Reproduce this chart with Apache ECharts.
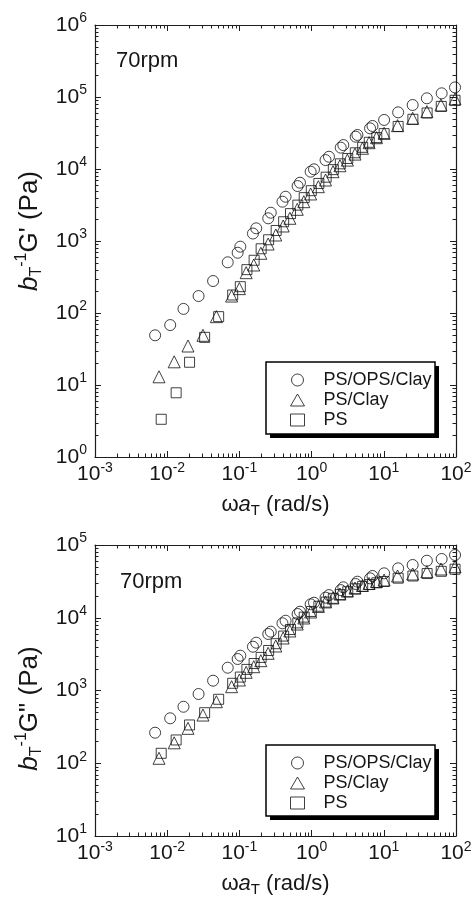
<!DOCTYPE html>
<html><head><meta charset="utf-8">
<script src="https://cdn.jsdelivr.net/npm/echarts@6/dist/echarts.min.js"></script>
<style>html,body{margin:0;padding:0;background:#fff}#c{width:472px;height:910px}</style>
</head><body><div id="c"></div>
<script>
const FONT = '"Liberation Sans", Arial, Helvetica, sans-serif';
const INK = '#161616';

// Tick decades (exponents of 10)
const xExps = [-3, -2, -1, 0, 1, 2];
const y1Exps = [0, 1, 2, 3, 4, 5, 6];
const y2Exps = [1, 2, 3, 4, 5];
const seriesNames = ['PS/OPS/Clay', 'PS/Clay', 'PS'];
const panelLabel = '70rpm';

// Reduced frequency ωaT (rad/s) for each sample
const wOPS  = [0.0068, 0.011, 0.0168, 0.0272, 0.0432, 0.0689, 0.0946, 0.103, 0.154, 0.171, 0.251, 0.272, 0.395, 0.436, 0.64, 0.69, 0.97, 1.08, 1.56, 1.74, 2.53, 2.75, 4.08, 4.31, 6.45, 6.97, 10.1, 15.8, 25.1, 39.5, 63.3, 97];
const wClay = [0.0077, 0.0125, 0.0194, 0.0313, 0.048, 0.078, 0.1, 0.124, 0.158, 0.198, 0.25, 0.319, 0.404, 0.5, 0.633, 0.78, 0.97, 1.24, 1.56, 1.98, 2.47, 3.13, 3.99, 5.06, 6.25, 7.92, 10.1, 15.5, 25.1, 39.5, 61.9, 97];
const wPS   = [0.00826, 0.0133, 0.0204, 0.033, 0.0516, 0.0807, 0.103, 0.127, 0.16, 0.2, 0.254, 0.323, 0.41, 0.51, 0.645, 0.79, 0.99, 1.26, 1.59, 2.0, 2.5, 3.17, 4.03, 5.1, 6.3, 8.0, 10.1, 15.8, 25.3, 39.8, 62.5, 97];

// Storage modulus bT^-1 G' (Pa)
const gpOPS  = [49, 68, 114, 172, 278, 506, 687, 834, 1270, 1500, 2066, 2470, 3516, 4120, 5800, 6450, 9180, 9900, 13300, 14800, 19800, 21500, 28100, 29700, 36700, 39600, 48000, 61200, 77400, 95900, 112500, 136000];
const gpClay = [13.0, 21, 34.8, 49, 89, 172, 218, 363, 464, 675, 908, 1212, 1616, 2066, 2754, 3516, 4500, 5680, 7030, 9180, 11100, 13300, 16100, 19400, 23200, 27200, 31300, 40000, 50600, 62500, 77400, 93800];
const gpPS   = [3.34, 7.8, 20.7, 45.9, 89, 178, 232, 400, 540, 780, 1040, 1400, 1850, 2400, 3150, 4000, 5000, 6300, 7700, 9800, 11800, 14000, 16800, 20000, 23500, 27300, 31000, 39000, 49000, 60000, 74000, 90000];

// Loss modulus bT^-1 G'' (Pa)
const gppOPS  = [263, 415, 598, 895, 1364, 2057, 2710, 3010, 4000, 4540, 5980, 6430, 8390, 9100, 11260, 12100, 15300, 16100, 18900, 20500, 24000, 26200, 29100, 31300, 34800, 37500, 40800, 47800, 53100, 60800, 64200, 72900];
const gppClay = [117, 191, 302, 460, 701, 1128, 1394, 1778, 2124, 2570, 3245, 4090, 5270, 6580, 8200, 9930, 12000, 14300, 16500, 18700, 21200, 23300, 25600, 27800, 29600, 31500, 33000, 37500, 39900, 43000, 46800, 50300];
const gppPS   = [137, 209, 336, 495, 757, 1256, 1530, 1950, 2350, 2850, 3550, 4400, 5600, 6900, 8500, 10200, 12200, 14400, 16400, 18500, 20800, 22800, 25000, 27000, 28600, 30200, 31500, 35000, 37500, 40500, 43500, 46500];

const pairs = (xs, ys) => xs.map((x, i) => [x, ys[i]]);
const pow = e => Math.pow(10, e);

const chart = echarts.init(document.getElementById('c'), null, {renderer: 'canvas'});

const labelRich = {
  b: {fontSize: 21, fontFamily: FONT, color: INK},
  s: {fontSize: 14, fontFamily: FONT, color: INK, padding: [0, 0, 13, 0]}
};
const expFmt = v => {
  const e = Math.round(Math.log10(v));
  return '{b|10}{s|' + (e < 0 ? '-' + (-e) : e) + '}';
};
function nameRich(fs, ss) {
  return {
    n: {fontSize: fs, fontFamily: FONT, color: INK},
    i: {fontSize: fs, fontFamily: FONT, color: INK, fontStyle: 'italic'},
    sub: {fontSize: ss, fontFamily: FONT, color: INK, padding: [Math.round(fs * 0.55), 0, 0, 0]},
    sup: {fontSize: ss, fontFamily: FONT, color: INK, padding: [0, 0, Math.round(fs * 0.6), 0]}
  };
}
const lineCol = '#1e1e1e';

function xAxis(grid, pos, withLabels) {
  return {
    type: 'log', logBase: 10, gridIndex: grid, position: pos,
    min: pow(xExps[0]), max: pow(xExps[xExps.length - 1]),
    axisLine: {show: true, onZero: false, lineStyle: {color: lineCol, width: 1.2}},
    axisTick: {show: true, inside: true, length: 6, lineStyle: {color: lineCol, width: 1}},
    axisLabel: {show: withLabels, formatter: expFmt, rich: labelRich, margin: 4, showMinLabel: true, showMaxLabel: true},
    splitLine: {show: false},
    name: withLabels ? '{n|ω}{i|a}{sub|T}{n| (rad/s)}' : '',
    nameLocation: 'middle', nameGap: 34,
    nameTextStyle: {rich: nameRich(22, 15)}
  };
}
function yAxis(grid, pos, exps, withLabels, name, shift) {
  return {
    type: 'log', logBase: 10, gridIndex: grid, position: pos,
    min: pow(exps[0]), max: pow(exps[exps.length - 1]),
    axisLine: {show: true, onZero: false, lineStyle: {color: lineCol, width: 1.2}},
    axisTick: {show: true, inside: true, length: 6, lineStyle: {color: lineCol, width: 1}},
    axisLabel: {show: withLabels, formatter: expFmt, rich: labelRich, margin: 8, showMinLabel: true, showMaxLabel: true},
    splitLine: {show: false},
    name: withLabels ? name : '',
    nameLocation: 'middle', nameGap: 42, nameRotate: 90,
    nameTextStyle: {rich: nameRich(26, 16), padding: shift}
  };
}
const symStyle = {color: 'rgba(0,0,0,0)', borderColor: '#111', borderWidth: 1};
function sc(name, sym, size, xs, ys, idx) {
  return {
    type: 'scatter', name: name, xAxisIndex: idx, yAxisIndex: idx,
    symbol: sym, symbolSize: size, itemStyle: symStyle, clip: false,
    data: pairs(xs, ys), z: 3
  };
}
function legend(top) {
  return {
    data: seriesNames.map(n => ({name: n})),
    orient: 'vertical', left: 290, top: top,
    itemWidth: 14, itemHeight: 12, itemGap: 0,
    padding: 0, z: 6,
    itemStyle: {color: 'rgba(0,0,0,0)', borderColor: '#111', borderWidth: 1},
    textStyle: {fontSize: 18, fontFamily: FONT, color: INK, lineHeight: 20, padding: [0, 0, 0, 14]},
    selectedMode: false
  };
}
// Legend frame with hard drop shadow (decoration)
function legendFrame(x, y, w, h) {
  return [
    {type: 'rect', z: 4, silent: true, shape: {x: x + 4, y: y + 4, width: w, height: h}, style: {fill: '#000'}},
    {type: 'rect', z: 5, silent: true, shape: {x: x, y: y, width: w, height: h}, style: {fill: '#fff', stroke: '#000', lineWidth: 1.5}}
  ];
}

chart.setOption({
  animation: false,
  backgroundColor: '#fff',
  textStyle: {fontFamily: FONT},
  title: [
    {text: panelLabel, left: 111, top: 45, textStyle: {fontSize: 22, fontWeight: 'normal', fontFamily: FONT, color: INK}},
    {text: panelLabel, left: 115, top: 566, textStyle: {fontSize: 22, fontWeight: 'normal', fontFamily: FONT, color: INK}}
  ],
  grid: [
    {left: 95, top: 25, width: 361, height: 432, outerBoundsMode: 'none', containLabel: false},
    {left: 95, top: 545, width: 361, height: 291, outerBoundsMode: 'none', containLabel: false}
  ],
  xAxis: [xAxis(0, 'bottom', true), xAxis(0, 'top', false), xAxis(1, 'bottom', true), xAxis(1, 'top', false)],
  yAxis: [
    yAxis(0, 'left', y1Exps, true, "{i|b}{sub|T}{sup|-1}{n|G' (Pa)}", [0, 0, 0, 20]),
    yAxis(0, 'right', y1Exps, false, '', 0),
    yAxis(1, 'left', y2Exps, true, '{i|b}{sub|T}{sup|-1}{n|G" (Pa)}', [0, 36, 0, 0]),
    yAxis(1, 'right', y2Exps, false, '', 0)
  ],
  legend: [legend(370), legend(753)],
  series: [
    sc(seriesNames[0], 'circle', 11, wOPS, gpOPS, 0),
    sc(seriesNames[1], 'triangle', 12, wClay, gpClay, 0),
    sc(seriesNames[2], 'rect', 10, wPS, gpPS, 0),
    sc(seriesNames[0], 'circle', 11, wOPS, gppOPS, 2),
    sc(seriesNames[1], 'triangle', 12, wClay, gppClay, 2),
    sc(seriesNames[2], 'rect', 10, wPS, gppPS, 2)
  ]
});

// Minor log ticks (2..9 × 10^k) on all four sides, positioned through the axes' own scales
function minorTicks() {
  const els = [].concat(legendFrame(266, 362, 169, 72), legendFrame(266, 745, 169, 71));
  const L = 3.5;
  const panels = [{ax: 0, exps: y1Exps}, {ax: 2, exps: y2Exps}];
  panels.forEach(p => {
    const px = v => chart.convertToPixel({xAxisIndex: p.ax}, v);
    const py = v => chart.convertToPixel({yAxisIndex: p.ax}, v);
    const left = px(pow(xExps[0])), right = px(pow(xExps[xExps.length - 1]));
    const bottom = py(pow(p.exps[0])), top = py(pow(p.exps[p.exps.length - 1]));
    const st = {stroke: lineCol, lineWidth: 1};
    for (let k = 0; k < xExps.length - 1; k++) {
      for (let m = 2; m <= 9; m++) {
        const x = Math.round(px(m * pow(xExps[k]))) + 0.5;
        els.push({type: 'line', silent: true, z: 10, shape: {x1: x, y1: bottom, x2: x, y2: bottom - L}, style: st});
        els.push({type: 'line', silent: true, z: 10, shape: {x1: x, y1: top, x2: x, y2: top + L}, style: st});
      }
    }
    for (let k = 0; k < p.exps.length - 1; k++) {
      for (let m = 2; m <= 9; m++) {
        const y = Math.round(py(m * pow(p.exps[k]))) + 0.5;
        els.push({type: 'line', silent: true, z: 10, shape: {x1: left, y1: y, x2: left + L, y2: y}, style: st});
        els.push({type: 'line', silent: true, z: 10, shape: {x1: right, y1: y, x2: right - L, y2: y}, style: st});
      }
    }
  });
  chart.setOption({graphic: {elements: els}});
}
minorTicks();
</script>
</body></html>
